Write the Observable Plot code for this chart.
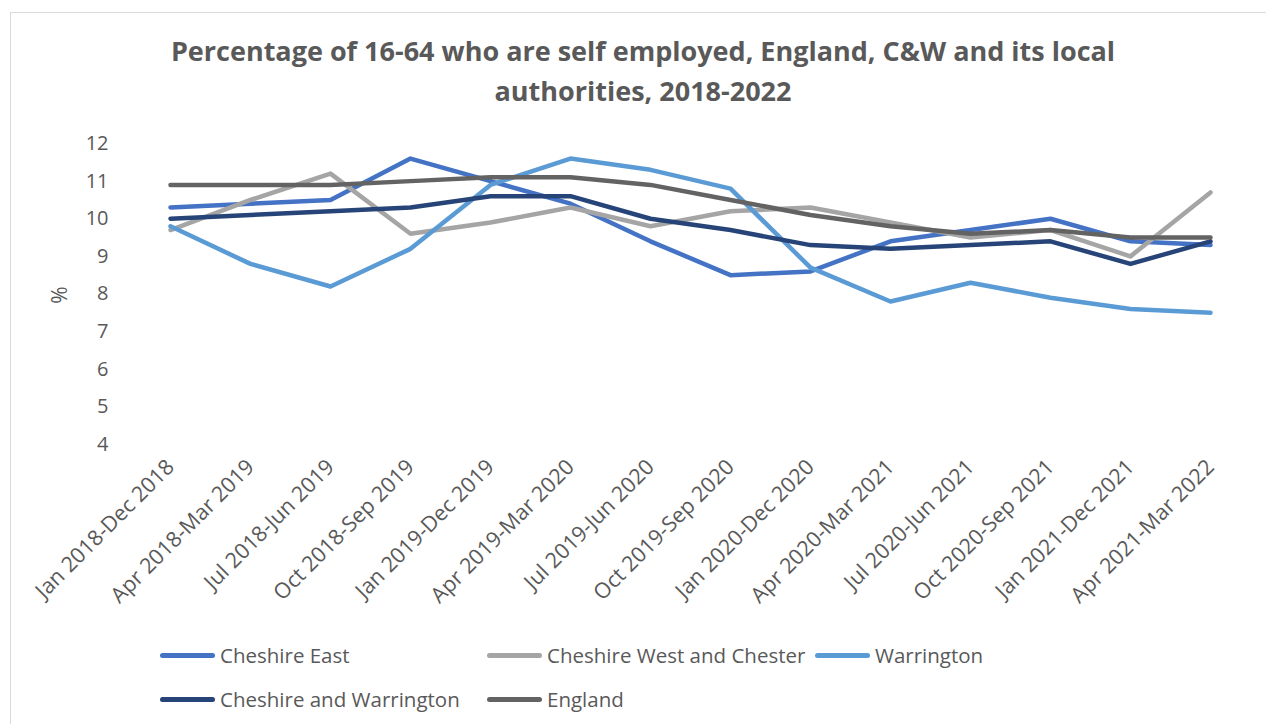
<!DOCTYPE html>
<html>
<head>
<meta charset="utf-8">
<script src="https://cdn.jsdelivr.net/npm/d3@7"></script>
<script src="https://cdn.jsdelivr.net/npm/@observablehq/plot@0.6"></script>
<style>
  html, body { margin: 0; padding: 0; background: #fff; }
  body { width: 1266px; height: 724px; position: relative; overflow: hidden; font-family: "Open Sans", sans-serif; }
  #frame { position: absolute; left: 10px; top: 12px; width: 1270px; height: 730px; border: 1px solid #d9d9d9; box-sizing: border-box; }
  #title { position: absolute; left: 0; width: 1286px; top: 31px; text-align: center; font-weight: 700; font-size: 27px; line-height: 40px; color: #595959; }
  #chart { position: absolute; left: 0; top: 0; }
  #ylab { position: absolute; left: 50px; top: 281px; font-size: 21px; color: #595959; transform: rotate(-90deg); transform-origin: center; }
  .leg { position: absolute; display: flex; align-items: center; font-size: 20.5px; color: #595959; white-space: nowrap; }
  .sw { width: 55px; height: 5px; border-radius: 3px; margin-right: 5px; }
</style>
</head>
<body>
<div id="frame"></div>
<div id="title"></div>
<div id="chart"></div>
<div id="ylab">%</div>
<div id="legend"></div>
<script>
const titleLines = ["Percentage of 16-64 who are self employed, England, C&W and its local", "authorities, 2018-2022"];
const periods = ["Jan 2018-Dec 2018","Apr 2018-Mar 2019","Jul 2018-Jun 2019","Oct 2018-Sep 2019","Jan 2019-Dec 2019","Apr 2019-Mar 2020","Jul 2019-Jun 2020","Oct 2019-Sep 2020","Jan 2020-Dec 2020","Apr 2020-Mar 2021","Jul 2020-Jun 2021","Oct 2020-Sep 2021","Jan 2021-Dec 2021","Apr 2021-Mar 2022"];
const seriesNames = ["Cheshire East","Cheshire West and Chester","Warrington","Cheshire and Warrington","England"];
const seriesColors = ["#4472C4","#A5A5A5","#5B9BD5","#264478","#636363"];
const cheshireEast = [10.3,10.4,10.5,11.6,11.0,10.4,9.4,8.5,8.6,9.4,9.7,10.0,9.4,9.3];
const cheshireWest = [9.7,10.5,11.2,9.6,9.9,10.3,9.8,10.2,10.3,9.9,9.5,9.7,9.0,10.7];
const warrington = [9.8,8.8,8.2,9.2,10.9,11.6,11.3,10.8,8.7,7.8,8.3,7.9,7.6,7.5];
const cheshireWarrington = [10.0,10.1,10.2,10.3,10.6,10.6,10.0,9.7,9.3,9.2,9.3,9.4,8.8,9.4];
const england = [10.9,10.9,10.9,11.0,11.1,11.1,10.9,10.5,10.1,9.8,9.6,9.7,9.5,9.5];
const yTicks = [4,5,6,7,8,9,10,11,12];

const seriesValues = [cheshireEast, cheshireWest, warrington, cheshireWarrington, england];
const data = [];
seriesNames.forEach((name, i) => {
  periods.forEach((p, j) => data.push({series: name, period: p, value: seriesValues[i][j]}));
});

document.getElementById("title").innerHTML = titleLines.map(t => `<div>${t.replace("&","&amp;")}</div>`).join("");

const chart = Plot.plot({
  width: 1266,
  height: 640,
  marginLeft: 130,
  marginRight: 16,
  marginTop: 143,
  marginBottom: 196,
  style: {fontFamily: "Open Sans, sans-serif", fontSize: "18px", color: "#595959", background: "transparent", overflow: "visible"},
  x: {type: "point", domain: periods, padding: 0.5, label: null},
  y: {domain: [4, 12], ticks: yTicks, label: null},
  color: {domain: seriesNames, range: seriesColors},
  marks: [
    Plot.gridY(yTicks, {stroke: "#d9d9d9", strokeOpacity: 1, strokeWidth: 1.5, x1: 130, x2: 1250}),
    Plot.axisY({ticks: yTicks, tickSize: 0, tickPadding: 22, fontSize: 20, fill: "#595959", label: null}),
    Plot.axisX({tickSize: 0, tickPadding: 19, tickRotate: -45, fontSize: 21.5, fill: "#595959", label: null}),
    Plot.line(data, {x: "period", y: "value", z: "series", stroke: "series", strokeWidth: 4.5, strokeLinecap: "round", strokeLinejoin: "round"})
  ]
});
document.getElementById("chart").appendChild(chart);

const legendPos = [[160,641],[487,641],[815,641],[160,685],[487,685]];
const legend = document.getElementById("legend");
seriesNames.forEach((name, i) => {
  const d = document.createElement("div");
  d.className = "leg";
  d.style.left = legendPos[i][0] + "px";
  d.style.top = legendPos[i][1] + "px";
  d.innerHTML = `<div class="sw" style="background:${seriesColors[i]}"></div><span>${name}</span>`;
  legend.appendChild(d);
});
</script>
</body>
</html>
